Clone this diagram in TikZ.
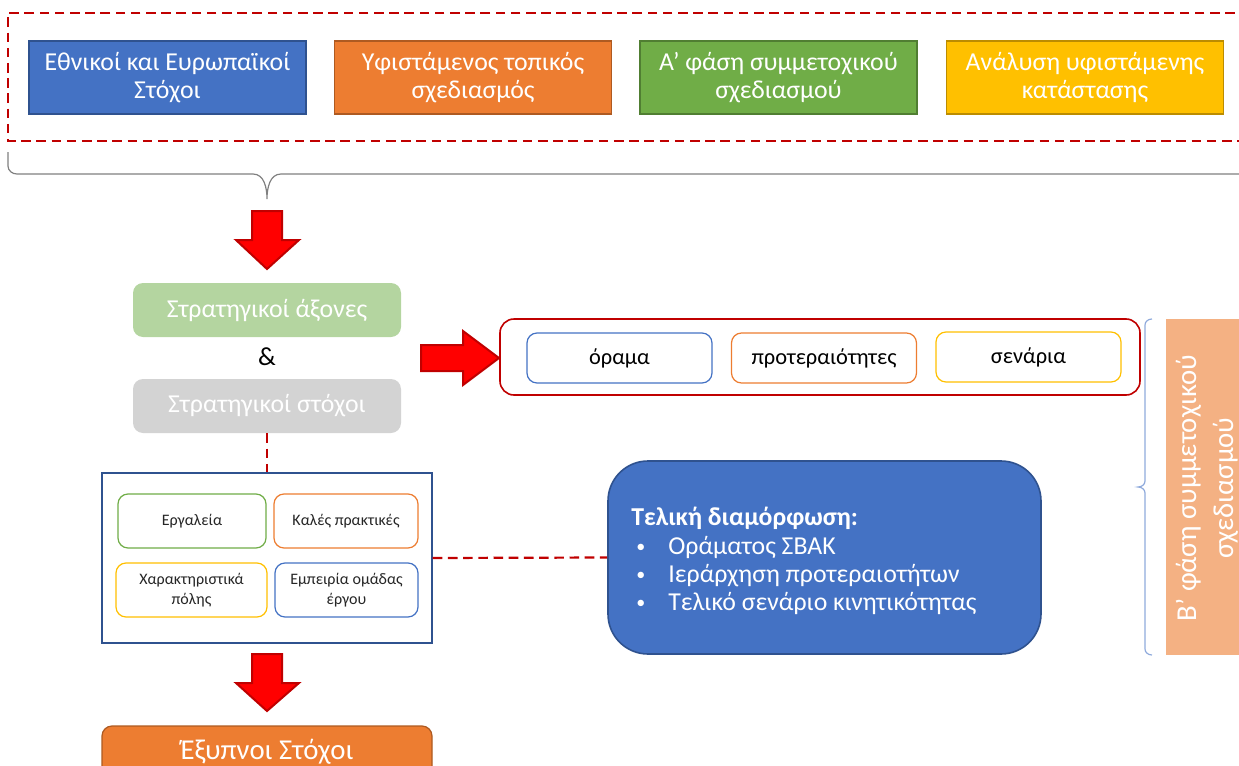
\documentclass[tikz,border=0pt]{standalone}
\usepackage{fontspec}
\setmainfont{Carlito}
\definecolor{cblue}{HTML}{4472C4}
\definecolor{cblueD}{HTML}{2F528F}
\definecolor{corange}{HTML}{ED7D31}
\definecolor{corangeD}{HTML}{AE5A21}
\definecolor{cgreen}{HTML}{70AD47}
\definecolor{cgreenD}{HTML}{507E32}
\definecolor{cyellow}{HTML}{FFC000}
\definecolor{cyellowD}{HTML}{BC8C00}
\definecolor{clgreen}{HTML}{B4D5A0}
\definecolor{cgrey}{HTML}{D3D3D3}
\definecolor{cpeach}{HTML}{F4B183}
\definecolor{cdred}{HTML}{C00000}
\definecolor{cbrace}{HTML}{8FAADC}
\newcommand{\blt}{\makebox[16pt][l]{\raisebox{0.8pt}{\scalebox{0.7}{•}}}}
\tikzset{
  topbox/.style={draw, line width=0.6pt, text=white, align=center, inner sep=0pt,
    minimum width=138.5pt, minimum height=36.5pt, font=\fontsize{12.9}{14}\selectfont},
  midbox/.style={rounded corners=5pt, text=white, inner sep=0pt, align=center,
    minimum width=134pt, minimum height=27pt, font=\fontsize{12.9}{14}\selectfont},
  optbox/.style={draw, line width=0.6pt, rounded corners=5pt, fill=white, inner sep=0pt,
    minimum width=92.5pt, minimum height=25pt, font=\fontsize{11.2}{13}\selectfont},
  smallbox/.style={draw, line width=0.6pt, rounded corners=5pt, fill=white, inner sep=0pt,
    align=center, minimum height=27pt, text=black!85, font=\fontsize{8}{10}\selectfont},
  redarrow/.style={fill=red, draw=cdred, line width=1pt, line join=miter},
  reddash/.style={draw=cdred, line width=1.1pt, dash pattern=on 4.8pt off 2.8pt},
}
\begin{document}
\begin{tikzpicture}[x=0.5pt,y=-0.5pt]
\useasboundingbox (0,0) rectangle (1239,766);

% dashed frame (open to the right)
\draw[reddash] (1250,13) -- (8,13) -- (8,141) -- (1250,141);

% top boxes
\node[topbox, fill=cblue, draw=cblueD] (b1) at (167.5,77.5) {Εθνικοί και Ευρωπαϊκοί\\Στόχοι};
\node[topbox, fill=corange, draw=corangeD] (b2) at (473,77.5) {Υφιστάμενος τοπικός\\σχεδιασμός};
\node[topbox, fill=cgreen, draw=cgreenD] (b3) at (778.5,77.5) {Α’ φάση συμμετοχικού\\σχεδιασμού};
\node[topbox, fill=cyellow, draw=cyellowD] (b4) at (1085,77.5) {Ανάλυση υφιστάμενης\\κατάστασης};

% top brace
\draw[gray, line width=0.6pt] (8,152) -- (8,166) to[out=-90,in=180] (17,174) -- (253,174)
  to[out=0,in=90] (267,199) to[out=90,in=180] (281,174) -- (1250,174);

% arrow 1
\draw[redarrow] (252,211) -- (282,211) -- (282,240) -- (299,240) -- (267,269) -- (236,240) -- (252,240) -- cycle;

% strategic boxes
\node[midbox, fill=clgreen] (axes) at (267,310) {Στρατηγικοί άξονες};
\node[font=\fontsize{13}{14}\selectfont] (amp) at (267,357) {\&};
\node[midbox, fill=cgrey] (goals) at (267,406) {Στρατηγικοί στόχοι};

% right arrow
\draw[redarrow] (421,345) -- (463,345) -- (463,331) -- (499,358) -- (463,385) -- (463,371) -- (421,371) -- cycle;

% options group
\node[draw=cdred, line width=0.8pt, rounded corners=7pt, minimum width=320pt, minimum height=38pt, inner sep=0pt] (grp) at (820,357) {};
\node[optbox, draw=cblue] (vision) at (619.5,358) {όραμα};
\node[optbox, draw=corange] (prio) at (824,358) {προτεραιότητες};
\node[optbox, draw=cyellow] (scen) at (1028.5,357) {σενάρια};

% right brace and phase B
\draw[cbrace, line width=0.6pt] (1152,319) to[out=180,in=90] (1145,325) -- (1145,481)
  to[out=-90,in=0] (1138,487) to[out=0,in=90] (1145,493) -- (1145,649) to[out=-90,in=180] (1152,655);
\fill[cpeach] (1166,319) rectangle (1260,655);
\node[rotate=90, text=white, align=center, font=\fontsize{14.4}{18.5}\selectfont] (phaseB) at (1207,488) {Β’ φάση συμμετοχικού\\σχεδιασμού};

% frame with factors
\draw[reddash] (goals.south) -- (267,473);
\node[draw=cblueD, line width=0.7pt, fill=white, minimum width=165pt, minimum height=85pt, inner sep=0pt] (frame) at (267,558) {};
\node[smallbox, draw=cgreen, minimum width=74pt] (tools) at (192,521) {Εργαλεία};
\node[smallbox, draw=corange, minimum width=72pt] (good) at (346,521) {Καλές πρακτικές};
\node[smallbox, draw=cyellow, minimum width=75.5pt] (city) at (191.5,590) {Χαρακτηριστικά\\πόλης};
\node[smallbox, draw=cblue, minimum width=71.5pt] (team) at (346.5,590) {Εμπειρία ομάδας\\έργου};

% final
\node[draw=cblueD, line width=0.8pt, fill=cblue, rounded corners=20pt, minimum width=216.5pt, minimum height=96.5pt, inner sep=0pt] (final) at (824.5,557.5) {};
\draw[reddash] (frame.east) -- (final.west);
\node[anchor=west, text=white, align=left, inner sep=0pt, font=\fontsize{12.9}{14.1}\selectfont] (finaltext) at (631,561)
 {\textbf{Τελική διαμόρφωση:}\\
  \hspace*{2.5pt}\blt Οράματος ΣΒΑΚ\\
  \hspace*{2.5pt}\blt Ιεράρχηση προτεραιοτήτων\\
  \hspace*{2.5pt}\blt Τελικό σενάριο κινητικότητας};

% arrow 2
\draw[redarrow] (252,654) -- (282,654) -- (282,683) -- (299,683) -- (267,711) -- (236,683) -- (252,683) -- cycle;

% smart goals
\node[draw=corangeD, line width=0.6pt, fill=corange, rounded corners=5pt, text=white, minimum width=165pt, minimum height=27pt, inner sep=0pt, font=\fontsize{14.4}{16}\selectfont] (smart) at (267,753) {\raisebox{4pt}{Έξυπνοι Στόχοι}};
\end{tikzpicture}
\end{document}
